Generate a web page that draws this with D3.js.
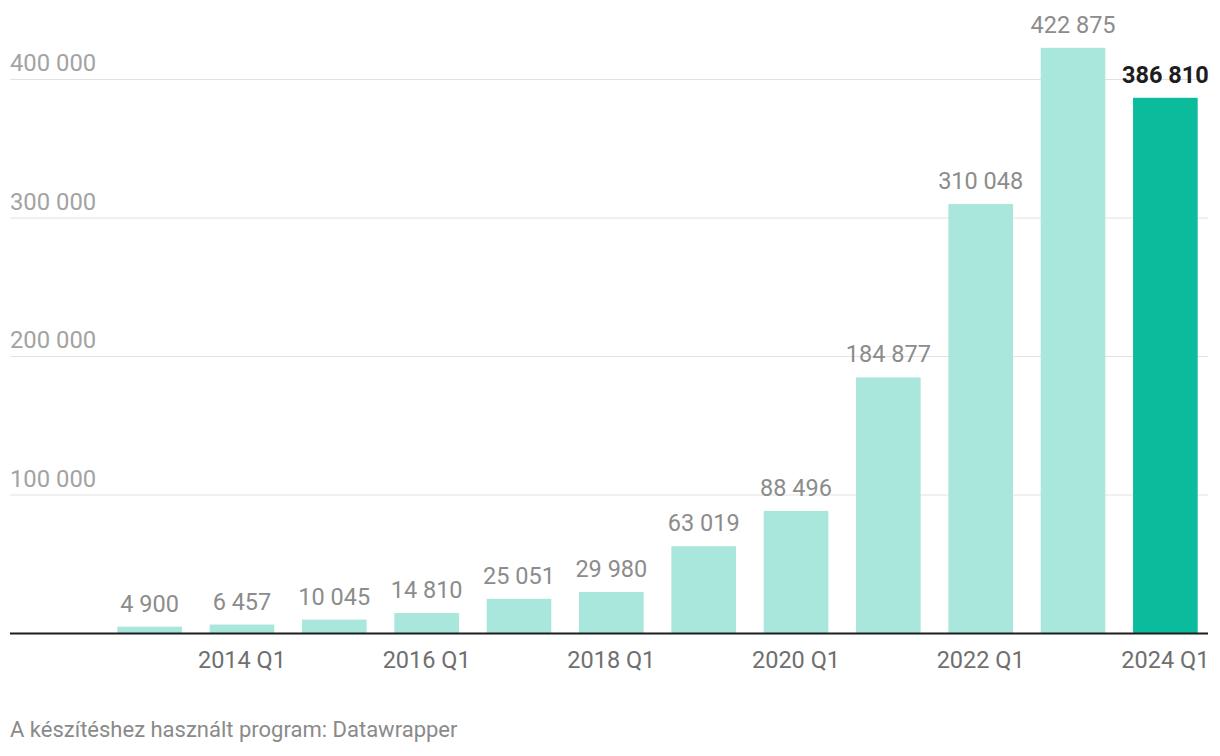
<!DOCTYPE html>
<html><head><meta charset="utf-8">
<script src="https://cdn.jsdelivr.net/npm/d3@7"></script>
<style>body{margin:0;background:#fff;font-family:Roboto,sans-serif}</style>
</head><body><svg id="c" width="1220" height="756"></svg>
<script>
const categories = ["2013 Q1","2014 Q1","2015 Q1","2016 Q1","2017 Q1","2018 Q1","2019 Q1","2020 Q1","2021 Q1","2022 Q1","2023 Q1","2024 Q1"];
const values = [4900,6457,10045,14810,25051,29980,63019,88496,184877,310048,422875,386810];
const xTickLabels = ["2014 Q1","2016 Q1","2018 Q1","2020 Q1","2022 Q1","2024 Q1"];
const yTicks = [100000,200000,300000,400000];
const footnote = "A készítéshez használt program: Datawrapper";

const svg = d3.select("#c");
const fmt = v => d3.format(",")(v).replace(/,/g, " ");
const x = d3.scaleBand().domain(categories).range([103,1212]).paddingInner(0.3).paddingOuter(0.155);
const y = d3.scaleLinear().domain([0,400000]).range([633.5,79.5]);

const g = svg.append("g");
g.selectAll(".grid").data(yTicks).join("line")
  .attr("x1",10).attr("x2",1208).attr("y1",d=>y(d)).attr("y2",d=>y(d))
  .attr("stroke","#e2e2e2").attr("stroke-width",1);
g.selectAll(".ylab").data(yTicks).join("text")
  .attr("x",10).attr("y",d=>y(d)-8.5).text(fmt)
  .attr("font-size",23.8).attr("fill","#a3a3a3");

g.selectAll(".bar").data(values).join("rect")
  .attr("x",(d,i)=>x(categories[i])).attr("width",x.bandwidth())
  .attr("y",d=>y(d)).attr("height",d=>y(0)-y(d))
  .attr("fill",(d,i)=>i===values.length-1?"#0bbc9c":"#a9e7dc");
g.selectAll(".vlab").data(values).join("text")
  .attr("x",(d,i)=>x(categories[i])+x.bandwidth()/2).attr("y",d=>y(d)-15)
  .attr("text-anchor","middle").attr("font-size",23.5)
  .attr("font-weight",(d,i)=>i===values.length-1?"bold":"normal")
  .attr("fill",(d,i)=>i===values.length-1?"#1d1d1d":"#8c8c8c")
  .text(fmt);

g.append("line").attr("x1",10).attr("x2",1208).attr("y1",y(0)).attr("y2",y(0))
  .attr("stroke","#1d1d1d").attr("stroke-width",2);

g.selectAll(".xlab").data(xTickLabels).join("text")
  .attr("x",d=>x(d)+x.bandwidth()/2).attr("y",668)
  .attr("text-anchor","middle").attr("font-size",23.5).attr("fill","#6f6f6f").text(d=>d);

svg.append("text").attr("x",10).attr("y",737).attr("font-size",22).attr("fill","#8a8a8a").text(footnote);
</script></body></html>
